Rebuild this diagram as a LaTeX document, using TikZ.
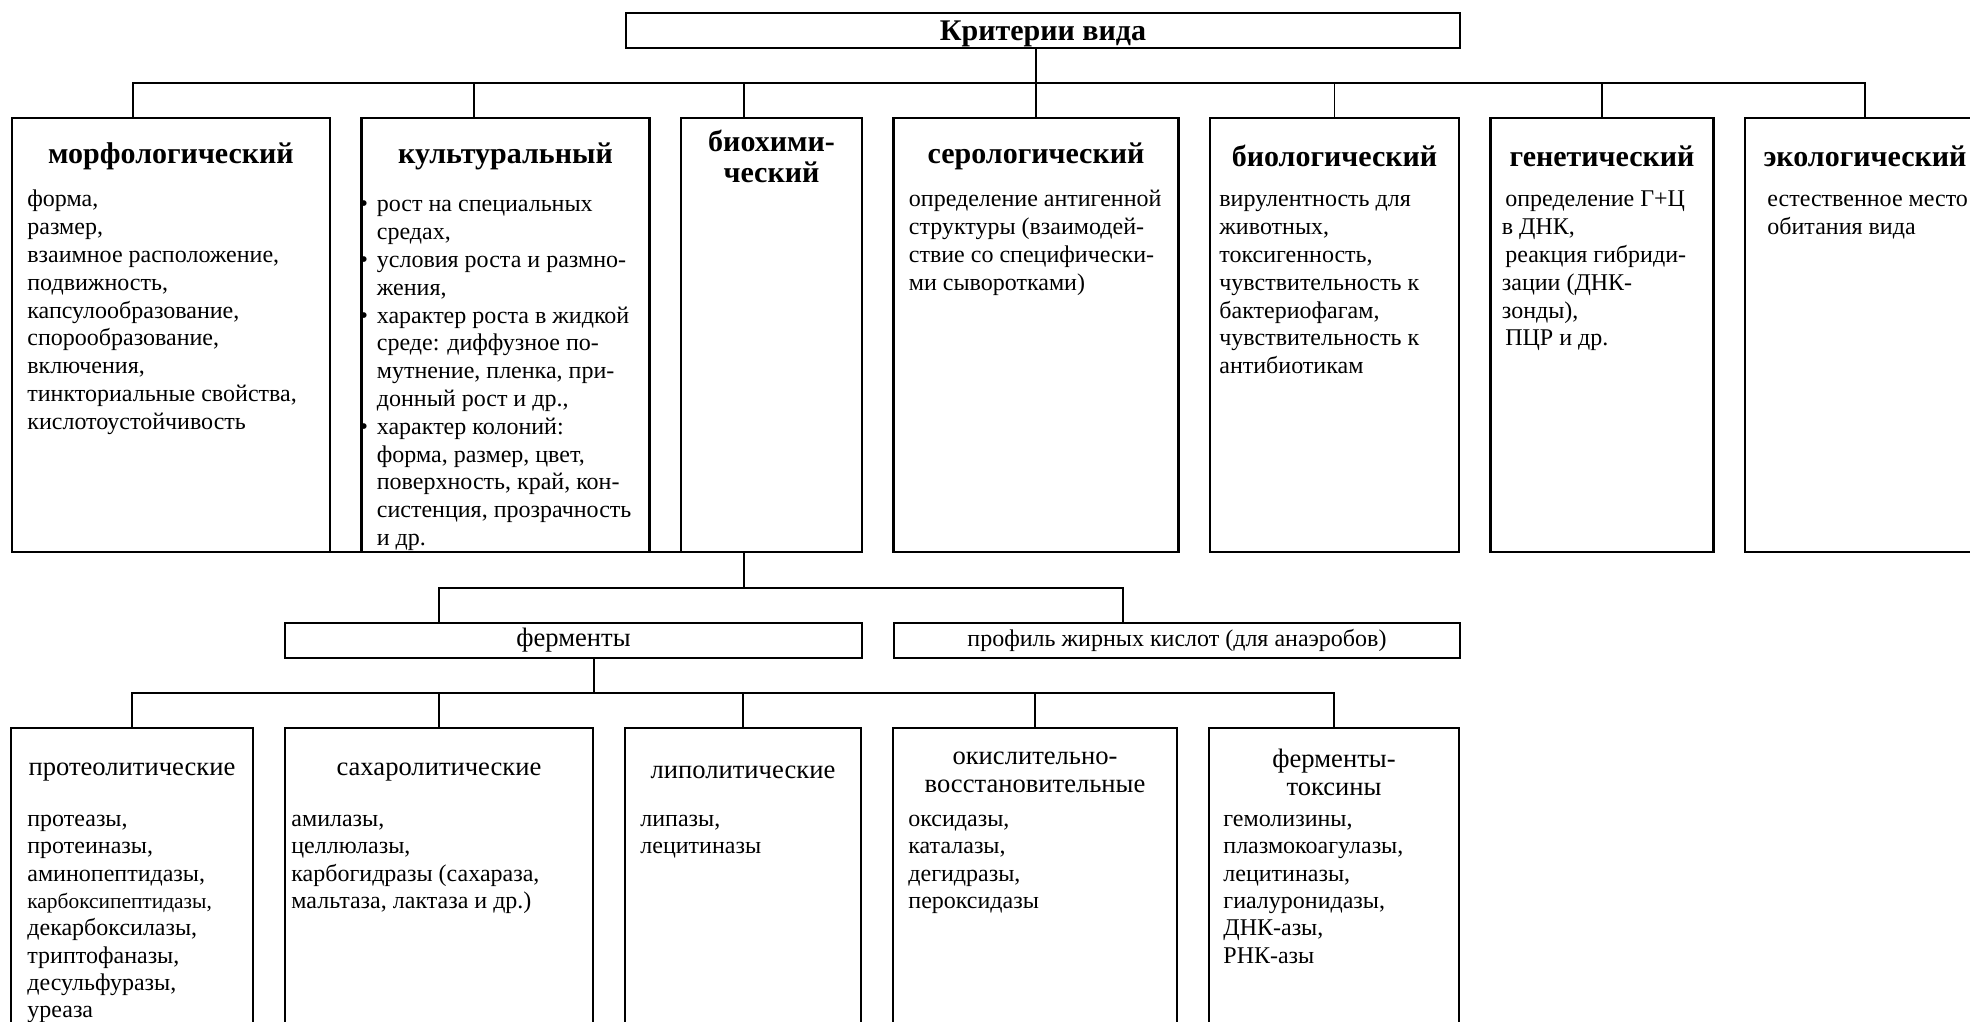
\documentclass[tikz,border=0pt]{standalone}
\usepackage{fontspec}
\setmainfont{Liberation Serif}
\usepackage{tikz}
\usetikzlibrary{positioning, calc}
\tikzset{
  frame line/.style={line width=1.05pt},
  crit box/.style={draw, frame line, inner sep=0pt, outer sep=0pt,
                   minimum height=217pt, anchor=north west},
  enz box/.style={crit box, minimum height=165pt},
  bar box/.style={draw, frame line, inner sep=0pt, outer sep=0pt,
                  minimum height=17.5pt, anchor=north west},
  crit title/.style={align=center, inner sep=0pt,
                     font=\fontsize{15}{15.5}\selectfont\bfseries},
  enz title/.style={align=center, inner sep=0pt,
                    font=\fontsize{13.3}{14}\selectfont},
  item text/.style={align=left, inner sep=0pt, anchor=north west,
                    font=\fontsize{12}{13.9}\selectfont},
  enz text/.style={item text, font=\fontsize{12}{13.65}\selectfont},
  link edge/.style={line width=0.7pt},
}
\newcommand{\bul}{\llap{\textbullet\hspace{4.5pt}}}

\begin{document}
\begin{tikzpicture}[node distance=15.75pt]
  \useasboundingbox (0,0) rectangle (985pt,-511pt);
  \clip (0,0) rectangle (985pt,-511pt);

  % root
  \node[bar box, minimum width=417pt, minimum height=17.7pt, text depth=0pt,
        font=\fontsize{15}{15.5}\selectfont\bfseries] (root) at (313pt,-6.3pt) {Критерии вида};

  % criteria row
  \node[crit box, minimum width=159pt] (morph) at (6pt,-59pt) {};
  \node[crit box, minimum width=144pt, right=of morph] (cult) {};
  \node[crit box, minimum width=90.5pt, right=of cult] (biochem) {};
  \node[crit box, minimum width=142.5pt, right=of biochem] (serol) {};
  \node[crit box, minimum width=124.5pt, right=of serol] (biol) {};
  \node[crit box, minimum width=111.5pt, right=of biol] (genet) {};
  \node[crit box, minimum width=120pt, right=of genet] (ecol) {};

  \foreach \n/\t in {morph/морфологический, cult/культуральный,
                     biochem/{биохими-\\ческий}, serol/серологический,
                     biol/биологический, genet/генетический, ecol/экологический}
    \node[crit title] (\n-t) at ([yshift=-19pt]\n.north) {\t};

  \node[item text] (morph-b) at ([xshift=7.5pt, yshift=-34.5pt]morph.north west)
    {\strut форма,\\размер,\\взаимное расположение,\\подвижность,\\капсулообразование,\\
     спорообразование,\\включения,\\тинкториальные свойства,\\кислотоустойчивость};
  \node[item text] (cult-b) at ([xshift=7.5pt, yshift=-37pt]cult.north west)
    {\strut\bul рост на специальных\\средах,\\\bul условия роста и размно-\\жения,\\
     \bul характер роста в жидкой\\среде: диффузное по-\\мутнение, пленка, при-\\
     донный рост и др.,\\\bul характер колоний:\\форма, размер, цвет,\\
     поверхность, край, кон-\\систенция, прозрачность\\и др.};
  \node[item text] (serol-b) at ([xshift=7.5pt, yshift=-34.5pt]serol.north west)
    {\strut определение антигенной\\структуры (взаимодей-\\ствие со специфически-\\ми сыворотками)};
  \node[item text] (biol-b) at ([xshift=4.5pt, yshift=-34.5pt]biol.north west)
    {\strut вирулентность для\\животных,\\токсигенность,\\чувствительность к\\
     бактериофагам,\\чувствительность к\\антибиотикам};
  \node[item text] (genet-b) at ([xshift=5.5pt, yshift=-34.5pt]genet.north west)
    {\strut\hspace*{1.7pt}определение Г+Ц\\в ДНК,\\\hspace*{1.7pt}реакция гибриди-\\
     зации (ДНК-\\зонды),\\\hspace*{1.7pt}ПЦР и др.};
  \node[item text] (ecol-b) at ([xshift=11pt, yshift=-34.5pt]ecol.north west)
    {\strut естественное место\\обитания вида};

  % biochemical branch
  \node[bar box, minimum width=288.5pt, font=\fontsize{13.3}{14}\selectfont]
    (ferm) at (142.5pt,-311.5pt) {ферменты};
  \node[bar box, minimum width=283pt, right=16pt of ferm,
        font=\fontsize{12}{13.9}\selectfont] (prof) {профиль жирных кислот (для анаэробов)};

  \node[enz box, minimum width=121pt] (proteo) at (5.5pt,-364pt) {};
  \node[enz box, minimum width=154pt, right=16pt of proteo] (sacch) {};
  \node[enz box, minimum width=118pt, right=16pt of sacch] (lipo) {};
  \node[enz box, minimum width=142pt, right=16pt of lipo] (oxred) {};
  \node[enz box, minimum width=125pt, right=16pt of oxred] (toxin) {};

  \foreach \n/\t in {proteo/протеолитические, sacch/сахаролитические,
                     lipo/липолитические, oxred/{окислительно-\\восстановительные},
                     toxin/{ферменты-\\токсины}}
    \node[enz title] (\n-t) at ([yshift=-22pt]\n.north) {\t};

  \node[enz text] (proteo-b) at ([xshift=8pt, yshift=-39.5pt]proteo.north west)
    {\strut протеазы,\\протеиназы,\\аминопептидазы,\\{\fontsize{10.7}{13.65}\selectfont карбоксипептидазы,}\\
     декарбоксилазы,\\триптофаназы,\\десульфуразы,\\уреаза};
  \node[enz text] (sacch-b) at ([xshift=3pt, yshift=-39.5pt]sacch.north west)
    {\strut амилазы,\\целлюлазы,\\карбогидразы (сахараза,\\мальтаза, лактаза и др.)};
  \node[enz text] (lipo-b) at ([xshift=7.5pt, yshift=-39.5pt]lipo.north west)
    {\strut липазы,\\лецитиназы};
  \node[enz text] (oxred-b) at ([xshift=7.5pt, yshift=-39.5pt]oxred.north west)
    {\strut оксидазы,\\каталазы,\\дегидразы,\\пероксидазы};
  \node[enz text] (toxin-b) at ([xshift=7pt, yshift=-39.5pt]toxin.north west)
    {\strut гемолизины,\\плазмокоагулазы,\\лецитиназы,\\гиалуронидазы,\\ДНК-азы,\\РНК-азы};

  % buses
  \coordinate (bus1) at (0,-41.5pt);
  \coordinate (bus2) at (0,-294pt);
  \coordinate (bus3) at (0,-346.5pt);

  \draw[link edge] ([xshift=-19pt]morph.north) |- (ecol.north |- bus1) -- (ecol.north);
  \draw[link edge] (root.south -| serol.north) -- (serol.north);
  \draw[link edge] ([xshift=-15.75pt]cult.north) -- ([xshift=-15.75pt]cult.north |- bus1);
  \draw[link edge] ([xshift=-13.75pt]biochem.north) -- ([xshift=-13.75pt]biochem.north |- bus1);
  \foreach \n in {biol, genet}
    \draw[link edge] (\n.north) -- (\n.north |- bus1);

  \draw[frame line] (morph.south east) -- (cult.south west);
  \draw[frame line] (cult.south east) -- (biochem.south west);

  \draw[link edge] ([xshift=-13.75pt]biochem.south) -- ([xshift=-13.75pt]biochem.south |- bus2);
  \draw[link edge] (ferm.north -| sacch.north) |- ([xshift=-27pt]prof.north |- bus2)
    -- ([xshift=-27pt]prof.north);

  \draw[link edge] ([xshift=10.25pt]ferm.south) -- ([xshift=10.25pt]ferm.south |- bus3);
  \draw[link edge] (proteo.north) |- (toxin.north |- bus3) -- (toxin.north);
  \foreach \n in {sacch, lipo, oxred}
    \draw[link edge] (\n.north) -- (\n.north |- bus3);
\end{tikzpicture}
\end{document}
